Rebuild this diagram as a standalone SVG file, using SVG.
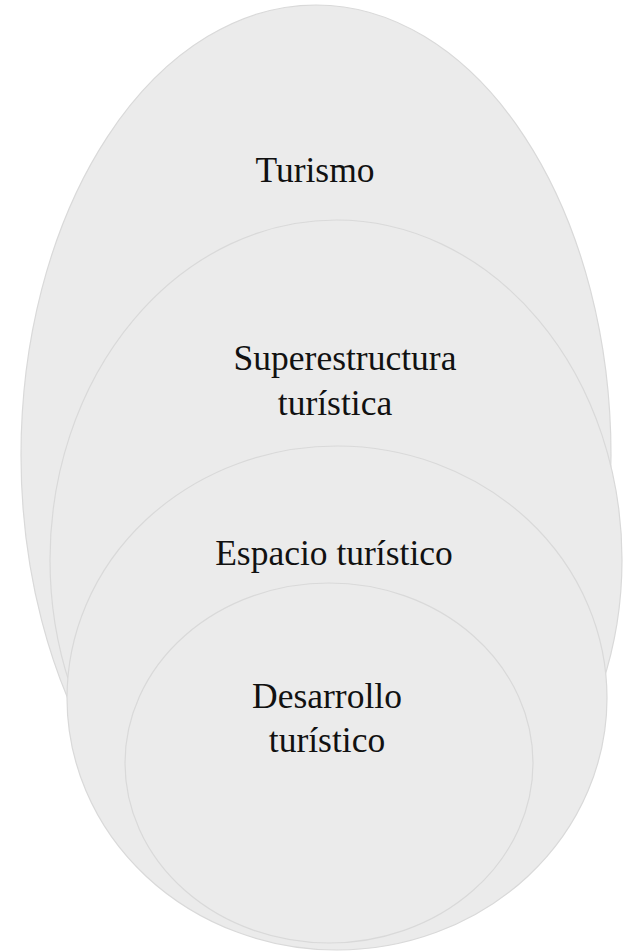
<svg xmlns="http://www.w3.org/2000/svg" width="628" height="952" viewBox="0 0 628 952">
<style>
.e{fill:#ebebeb;stroke:#d9d9d9;stroke-width:1.2}
.t{font-family:"Liberation Serif","Times New Roman",serif;font-size:35.5px;fill:#111;text-anchor:middle}
</style>
<rect width="628" height="952" fill="#ffffff"/>
<g id="turismo">
<ellipse class="e" cx="316" cy="455" rx="295" ry="450"/>
<text class="t" x="315" y="182">Turismo</text>
</g>
<g id="superestructura">
<ellipse class="e" cx="336" cy="560" rx="286" ry="340"/>
<text class="t" x="345" y="370">Superestructura</text>
<text class="t" x="335" y="415">turística</text>
</g>
<g id="espacio">
<ellipse class="e" cx="337" cy="698" rx="270" ry="252"/>
<text class="t" x="334" y="565">Espacio turístico</text>
</g>
<g id="desarrollo">
<ellipse class="e" cx="329" cy="763" rx="204" ry="180"/>
<text class="t" x="327" y="708">Desarrollo</text>
<text class="t" x="327" y="752">turístico</text>
</g>
<g id="connectors"></g>
</svg>
